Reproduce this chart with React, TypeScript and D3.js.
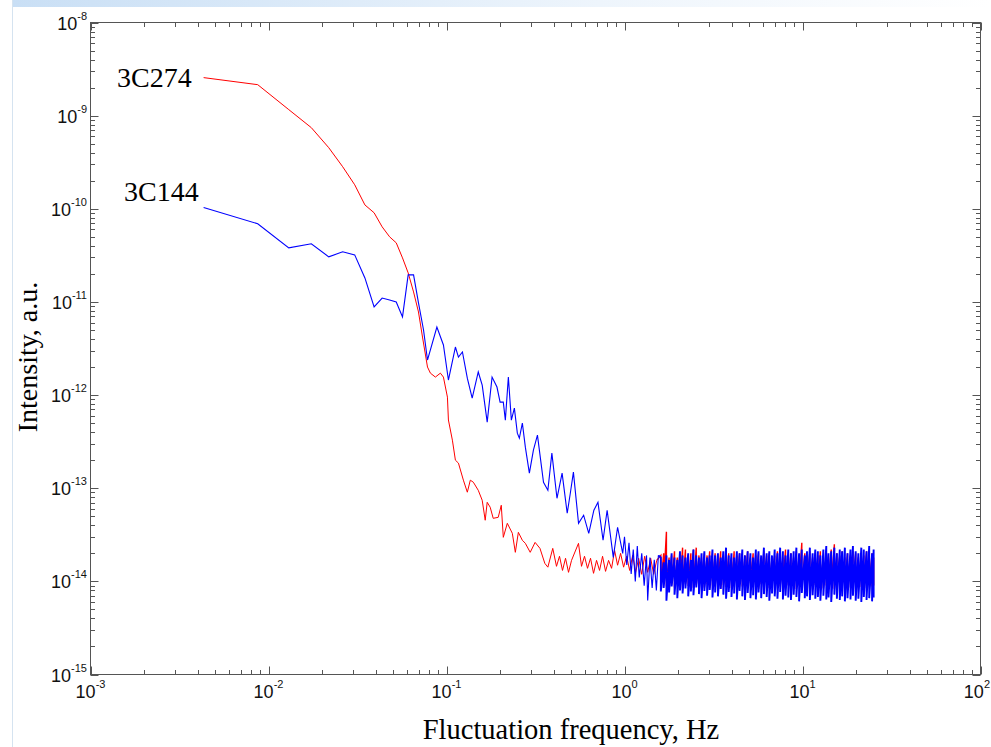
import * as d3 from 'd3';
import { useEffect, useRef } from 'react';

// low-frequency part of each spectrum: [frequency Hz, intensity a.u.]
const red3C274: [number, number][] = [
  [0.00432, 2.56e-9], [0.0087, 2.15e-9], [0.0130, 1.16e-9], [0.0174, 7.43e-10],
  [0.0218, 4.53e-10], [0.0261, 2.83e-10], [0.0305, 1.81e-10], [0.0348, 1.10e-10],
  [0.0392, 9.06e-11], [0.0435, 6.40e-11], [0.0479, 5.00e-11], [0.0522, 4.31e-11],
  [0.0566, 2.97e-11], [0.0609, 2.05e-11], [0.0653, 1.28e-11], [0.0696, 7.8e-12],
  [0.0733, 4.2e-12], [0.0782, 2.0e-12], [0.0812, 1.72e-12], [0.0866, 1.56e-12],
  [0.0924, 1.72e-12], [0.0961, 1.56e-12], [0.1012, 9.5e-13], [0.1025, 5.4e-13],
  [0.1079, 3.28e-13], [0.1122, 2.0e-13], [0.1167, 1.86e-13], [0.1244, 1.22e-13],
  [0.1309, 9.06e-14], [0.1361, 1.22e-13], [0.1415, 1.16e-13], [0.1508, 9.5e-14],
  [0.1587, 7.43e-14], [0.1650, 4.53e-14], [0.1693, 7.06e-14], [0.1760, 6.25e-14],
  [0.1830, 4.75e-14], [0.1952, 4.87e-14], [0.2031, 6.56e-14], [0.2085, 2.97e-14],
  [0.2196, 4.2e-14], [0.2343, 3.28e-14], [0.2436, 2.05e-14], [0.2533, 3.36e-14],
  [0.2668, 2.76e-14], [0.2773, 2.56e-14], [0.2953, 2.05e-14], [0.3146, 2.62e-14],
  [0.3350, 2.26e-14], [0.3568, 1.56e-14], [0.3711, 1.42e-14], [0.3953, 2.26e-14],
  [0.4149, 1.45e-14], [0.4314, 1.86e-14], [0.4485, 1.31e-14], [0.4663, 1.77e-14],
  [0.4848, 1.25e-14], [0.504, 1.68e-14], [0.5515, 2.56e-14], [0.5734, 1.45e-14],
  [0.5961, 1.86e-14], [0.6198, 1.38e-14], [0.6444, 1.77e-14], [0.670, 1.22e-14],
  [0.6966, 1.68e-14], [0.7242, 1.31e-14], [0.7529, 1.86e-14], [0.7827, 1.28e-14],
  [0.8138, 1.68e-14], [0.846, 1.38e-14], [0.8796, 2.15e-14], [0.9145, 1.49e-14],
  [0.9508, 2.0e-14], [0.9885, 1.42e-14], [1.028, 1.86e-14], [1.069, 1.31e-14],
  [1.111, 1.90e-14], [1.155, 1.25e-14], [1.201, 1.77e-14], [1.249, 1.19e-14],
  [1.298, 1.86e-14], [1.35, 1.25e-14], [1.403, 1.77e-14], [1.459, 1.19e-14],
  [1.517, 1.68e-14],
];

const blue3C144: [number, number][] = [
  [0.00432, 1.03e-10], [0.0087, 6.9e-11], [0.0130, 3.81e-11], [0.0174, 4.21e-11],
  [0.0218, 3.05e-11], [0.0261, 3.45e-11], [0.0305, 3.2e-11], [0.0348, 1.81e-11],
  [0.0392, 8.83e-12], [0.0435, 1.1e-11], [0.0479, 1.05e-11], [0.0522, 1.0e-11],
  [0.0566, 6.9e-12], [0.0609, 1.95e-11], [0.0653, 1.95e-11], [0.0696, 9.75e-12],
  [0.0743, 5.0e-12], [0.0782, 2.38e-12], [0.0812, 3.05e-12], [0.0883, 5.38e-12],
  [0.0961, 3.45e-12], [0.1025, 1.45e-12], [0.1122, 3.28e-12], [0.1167, 2.56e-12],
  [0.1229, 2.9e-12], [0.1309, 1.52e-12], [0.1394, 9.3e-13], [0.1508, 1.77e-12],
  [0.1587, 1.28e-12], [0.1693, 5.13e-13], [0.1803, 1.56e-12], [0.1921, 1.22e-12],
  [0.2, 8.4e-13], [0.2085, 8.4e-13], [0.2141, 5.38e-13], [0.2226, 1.56e-12],
  [0.2314, 5.38e-13], [0.2406, 7.24e-13], [0.25, 3.9e-13], [0.2566, 3.45e-13],
  [0.2668, 5.0e-13], [0.2773, 2.76e-13], [0.2921, 1.45e-13], [0.3078, 2.56e-13],
  [0.3243, 3.72e-13], [0.3507, 1.16e-13], [0.3711, 9.5e-14], [0.3908, 2.38e-13],
  [0.4175, 7.8e-14], [0.4461, 1.45e-13], [0.4766, 5.38e-14], [0.4961, 8.83e-14],
  [0.5164, 1.49e-13], [0.5518, 4.2e-14], [0.5894, 5.13e-14], [0.6298, 3.28e-14],
  [0.6729, 5.8e-14], [0.7093, 7.06e-14], [0.7578, 2.76e-14], [0.7988, 5.8e-14],
  [0.8650, 1.81e-14], [0.9145, 3.81e-14], [0.9771, 2.0e-14], [1.0, 3.0e-14],
  [1.03, 1.5e-14], [1.06, 2.6e-14], [1.09, 1.2e-14], [1.12, 2.2e-14], [1.15, 1.0e-14],
  [1.18, 2.4e-14], [1.21, 1.1e-14], [1.25, 2.0e-14], [1.29, 9.0e-15], [1.33, 1.9e-14],
  [1.35, 6.25e-15], [1.39, 1.8e-14], [1.43, 8.5e-15], [1.47, 1.7e-14], [1.51, 8.0e-15],
  [1.55, 1.9e-14],
];

// high-frequency noise floor: per-frequency max / min
const noiseFreq = [
  1.6, 1.66, 1.72, 1.78, 1.84, 1.91, 1.98, 2.05, 2.12, 2.2, 2.28, 2.36, 2.44, 2.53,
  2.62, 2.71, 2.81, 2.91, 3.01, 3.12, 3.23, 3.35, 3.47, 3.59, 3.72, 3.85, 3.99, 4.13,
  4.28, 4.43, 4.59, 4.75, 4.92, 5.1, 5.28, 5.47, 5.66, 5.86, 6.07, 6.29, 6.51, 6.74,
  6.98, 7.23, 7.49, 7.76, 8.03, 8.32, 8.61, 8.92, 9.24, 9.57, 9.91, 10.3, 10.6, 11.0,
  11.4, 11.8, 12.2, 12.6, 13.1, 13.6, 14.0, 14.5, 15.1, 15.6, 16.2, 16.7, 17.3, 17.9,
  18.6, 19.2, 19.9, 20.6, 21.4, 22.1, 22.9, 23.7, 24.6, 25.1,
];
const redNoiseHi = [
  1.9e-14, 2.0e-14, 3.4e-14, 1.8e-14, 1.9e-14, 2.1e-14, 1.8e-14, 2.0e-14, 2.3e-14, 2.2e-14,
  1.9e-14, 2.0e-14, 2.2e-14, 2.3e-14, 1.9e-14, 1.8e-14, 2.0e-14, 1.9e-14, 2.1e-14, 1.8e-14,
  2.0e-14, 1.9e-14, 2.1e-14, 1.8e-14, 1.9e-14, 2.0e-14, 1.8e-14, 2.1e-14, 1.9e-14, 2.0e-14,
  1.8e-14, 1.9e-14, 2.1e-14, 1.8e-14, 2.0e-14, 1.9e-14, 2.0e-14, 1.8e-14, 2.1e-14, 1.9e-14,
  2.0e-14, 1.8e-14, 1.9e-14, 2.1e-14, 2.0e-14, 1.8e-14, 2.2e-14, 1.9e-14, 2.0e-14, 1.8e-14,
  2.1e-14, 1.9e-14, 2.6e-14, 2.0e-14, 1.9e-14, 2.1e-14, 1.8e-14, 2.0e-14, 1.9e-14, 2.1e-14,
  1.8e-14, 2.0e-14, 1.9e-14, 2.2e-14, 2.5e-14, 2.0e-14, 1.9e-14, 2.1e-14, 1.8e-14, 2.0e-14,
  1.9e-14, 2.1e-14, 2.0e-14, 1.8e-14, 2.0e-14, 1.9e-14, 2.1e-14, 1.9e-14, 2.0e-14, 1.8e-14,
];
const redNoiseLo = [
  9.0e-15, 9.5e-15, 8.8e-15, 1.0e-14, 9.2e-15, 8.6e-15, 9.8e-15, 9.0e-15, 8.4e-15, 9.4e-15,
  8.9e-15, 9.6e-15, 8.5e-15, 9.1e-15, 8.7e-15, 9.9e-15, 8.6e-15, 9.3e-15, 8.4e-15, 9.0e-15,
  8.8e-15, 9.5e-15, 8.3e-15, 9.2e-15, 8.7e-15, 9.7e-15, 8.5e-15, 9.0e-15, 8.2e-15, 9.4e-15,
  8.8e-15, 9.1e-15, 8.4e-15, 9.6e-15, 8.6e-15, 9.0e-15, 8.3e-15, 9.3e-15, 8.7e-15, 9.5e-15,
  8.5e-15, 9.2e-15, 8.2e-15, 9.0e-15, 8.8e-15, 9.4e-15, 8.4e-15, 9.1e-15, 8.6e-15, 9.7e-15,
  8.3e-15, 9.0e-15, 8.8e-15, 9.3e-15, 8.5e-15, 9.6e-15, 8.2e-15, 9.1e-15, 8.7e-15, 9.4e-15,
  8.4e-15, 9.0e-15, 8.6e-15, 9.2e-15, 8.3e-15, 9.5e-15, 8.8e-15, 9.0e-15, 8.4e-15, 9.3e-15,
  8.6e-15, 9.1e-15, 8.2e-15, 9.4e-15, 8.7e-15, 9.0e-15, 8.5e-15, 9.2e-15, 8.8e-15, 9.0e-15,
];
const blueNoiseHi = [
  1.8e-14, 1.6e-14, 1.9e-14, 1.7e-14, 2.0e-14, 1.8e-14, 1.7e-14, 2.1e-14, 1.9e-14, 1.8e-14,
  2.0e-14, 1.7e-14, 2.2e-14, 1.9e-14, 1.8e-14, 2.0e-14, 2.1e-14, 1.8e-14, 1.9e-14, 2.2e-14,
  1.9e-14, 2.0e-14, 1.8e-14, 2.1e-14, 2.3e-14, 1.9e-14, 2.0e-14, 1.8e-14, 2.1e-14, 2.0e-14,
  2.2e-14, 1.9e-14, 2.1e-14, 2.0e-14, 1.8e-14, 2.2e-14, 2.1e-14, 1.9e-14, 2.3e-14, 2.0e-14,
  2.1e-14, 1.9e-14, 2.2e-14, 2.0e-14, 2.3e-14, 2.1e-14, 1.9e-14, 2.2e-14, 2.0e-14, 2.1e-14,
  2.3e-14, 2.0e-14, 2.2e-14, 1.9e-14, 2.1e-14, 2.3e-14, 2.0e-14, 2.2e-14, 2.1e-14, 1.9e-14,
  2.2e-14, 2.4e-14, 2.0e-14, 2.1e-14, 2.3e-14, 2.0e-14, 2.2e-14, 2.1e-14, 2.3e-14, 2.0e-14,
  2.2e-14, 2.4e-14, 2.1e-14, 2.0e-14, 2.3e-14, 2.2e-14, 2.1e-14, 2.4e-14, 2.0e-14, 2.2e-14,
];
const blueNoiseLo = [
  7.8e-15, 8.5e-15, 6.2e-15, 7.6e-15, 8.8e-15, 7.2e-15, 6.6e-15, 8.0e-15, 7.4e-15, 8.4e-15,
  6.9e-15, 7.8e-15, 7.1e-15, 8.6e-15, 7.3e-15, 6.6e-15, 7.9e-15, 7.0e-15, 8.1e-15, 6.7e-15,
  7.6e-15, 6.9e-15, 8.3e-15, 7.2e-15, 6.5e-15, 7.7e-15, 6.8e-15, 7.4e-15, 6.4e-15, 7.9e-15,
  6.9e-15, 6.3e-15, 7.5e-15, 6.6e-15, 7.1e-15, 6.4e-15, 7.6e-15, 6.6e-15, 7.3e-15, 6.8e-15,
  6.2e-15, 7.4e-15, 6.9e-15, 6.5e-15, 7.7e-15, 6.4e-15, 7.0e-15, 6.7e-15, 6.3e-15, 7.2e-15,
  6.8e-15, 6.1e-15, 7.5e-15, 6.6e-15, 6.9e-15, 6.3e-15, 7.1e-15, 6.5e-15, 6.8e-15, 6.2e-15,
  7.0e-15, 6.4e-15, 6.7e-15, 6.0e-15, 7.2e-15, 6.5e-15, 6.3e-15, 6.9e-15, 6.1e-15, 6.6e-15,
  6.4e-15, 7.0e-15, 6.2e-15, 6.5e-15, 6.0e-15, 6.8e-15, 6.3e-15, 6.6e-15, 6.1e-15, 6.7e-15,
];

const xDecades = [-3, -2, -1, 0, 1, 2];
const yDecades = [-8, -9, -10, -11, -12, -13, -14, -15];

// max/min pair at every frequency -> one continuous trace
function band(hi: number[], lo: number[]): [number, number][] {
  const out: [number, number][] = [];
  noiseFreq.forEach((f, i) => { out.push([f, hi[i]]); out.push([f, lo[i]]); });
  return out;
}

function App() {
  const ref = useRef<SVGSVGElement>(null);

  useEffect(() => {
    const svg = d3.select(ref.current);
    svg.selectAll('*').remove();

    const x = d3.scaleLog().domain([1e-3, 1e2]).range([90.5, 980.5]);
    const y = d3.scaleLog().domain([1e-15, 1e-8]).range([674.5, 22.5]);

    // slide decoration
    const grad = svg.append('defs').append('linearGradient').attr('id', 'topband');
    grad.append('stop').attr('offset', '0%').attr('stop-color', '#c9dff5');
    grad.append('stop').attr('offset', '60%').attr('stop-color', '#eef5fc');
    grad.append('stop').attr('offset', '100%').attr('stop-color', '#ffffff');
    svg.append('rect').attr('x', 12).attr('y', 0).attr('width', 979).attr('height', 7)
      .attr('fill', 'url(#topband)');
    svg.append('line').attr('x1', 12.5).attr('x2', 12.5).attr('y1', 0).attr('y2', 747)
      .attr('stroke', '#d5e3f0');

    const g = svg.append('g');
    const axisColor = '#555';

    // ticks, inward on all four sides
    const xTicks: { v: number; major: boolean }[] = [];
    for (let d = -3; d < 2; d++)
      for (let k = 1; k < 10; k++) xTicks.push({ v: k * Math.pow(10, d), major: k === 1 });
    xTicks.push({ v: 100, major: true });
    const yTicks: { v: number; major: boolean }[] = [];
    for (let d = -15; d < -8; d++)
      for (let k = 1; k < 10; k++) yTicks.push({ v: k * Math.pow(10, d), major: k === 1 });
    yTicks.push({ v: 1e-8, major: true });

    const [x0, x1] = x.range();
    const [y0, y1] = y.range();
    xTicks.forEach(t => {
      const px = Math.round(x(t.v)) + 0.5;
      const len = t.major ? 8 : 4.5;
      g.append('line').attr('x1', px).attr('x2', px).attr('y1', y0).attr('y2', y0 - len).attr('stroke', axisColor);
      g.append('line').attr('x1', px).attr('x2', px).attr('y1', y1).attr('y2', y1 + len).attr('stroke', axisColor);
    });
    yTicks.forEach(t => {
      const py = Math.round(y(t.v)) + 0.5;
      const len = t.major ? 8 : 4.5;
      g.append('line').attr('x1', x0).attr('x2', x0 + len).attr('y1', py).attr('y2', py).attr('stroke', axisColor);
      g.append('line').attr('x1', x1).attr('x2', x1 - len).attr('y1', py).attr('y2', py).attr('stroke', axisColor);
    });
    g.append('rect').attr('x', x0).attr('y', y1).attr('width', x1 - x0).attr('height', y0 - y1)
      .attr('fill', 'none').attr('stroke', axisColor);

    // tick labels (the last one is pulled in so it stays on the page)
    const tickFont = '"Liberation Sans", Arial, sans-serif';
    xDecades.forEach(d => {
      const last = d === 2;
      const t = g.append('text').attr('x', last ? 990 : x(Math.pow(10, d))).attr('y', 698)
        .attr('text-anchor', last ? 'end' : 'middle').attr('font-family', tickFont)
        .attr('font-size', 18).attr('fill', '#111');
      t.append('tspan').text('10');
      t.append('tspan').attr('dy', -10).attr('font-size', 11).text(String(d));
    });
    yDecades.forEach(d => {
      const t = g.append('text').attr('x', 87).attr('y', y(Math.pow(10, d)) + 7)
        .attr('text-anchor', 'end').attr('font-family', tickFont).attr('font-size', 18).attr('fill', '#111');
      t.append('tspan').text('10');
      t.append('tspan').attr('dy', -10).attr('font-size', 11).text(String(d));
    });

    // spectra: smooth low-frequency part, then the dense noise floor
    const line = d3.line<[number, number]>().x(d => x(d[0])).y(d => y(d[1]));
    const redBand = [red3C274[red3C274.length - 1]].concat(band(redNoiseHi, redNoiseLo));
    const blueBand = [blue3C144[blue3C144.length - 1]].concat(band(blueNoiseHi, blueNoiseLo));
    g.append('path').attr('d', line(red3C274)).attr('fill', 'none').attr('stroke', '#ff0000').attr('stroke-width', 1);
    g.append('path').attr('d', line(redBand)).attr('fill', 'none').attr('stroke', '#ff0000').attr('stroke-width', 1.4);
    g.append('path').attr('d', line(blue3C144)).attr('fill', 'none').attr('stroke', '#0000ff').attr('stroke-width', 1.1);
    g.append('path').attr('d', line(blueBand)).attr('fill', 'none').attr('stroke', '#0000ff')
      .attr('stroke-width', 1.9).attr('stroke-linejoin', 'bevel');

    // labels
    const serif = '"Liberation Serif", "Times New Roman", serif';
    g.append('text').attr('x', 117).attr('y', 87).attr('font-family', serif).attr('font-size', 28).attr('fill', '#000').text('3C274');
    g.append('text').attr('x', 124).attr('y', 201).attr('font-family', serif).attr('font-size', 28).attr('fill', '#000').text('3C144');

    g.append('text').attr('x', 571).attr('y', 739).attr('text-anchor', 'middle')
      .attr('font-family', serif).attr('font-size', 28.5).attr('fill', '#000').text('Fluctuation frequency, Hz');
    g.append('text').attr('transform', 'translate(37,357) rotate(-90)').attr('text-anchor', 'middle')
      .attr('font-family', serif).attr('font-size', 28).attr('fill', '#000').text('Intensity, a.u.');
  }, []);

  return (
    <svg ref={ref} width={991} height={747}
      style={{ position: 'absolute', left: 0, top: 0, background: '#fff', display: 'block' }} />
  );
}

export default App;
